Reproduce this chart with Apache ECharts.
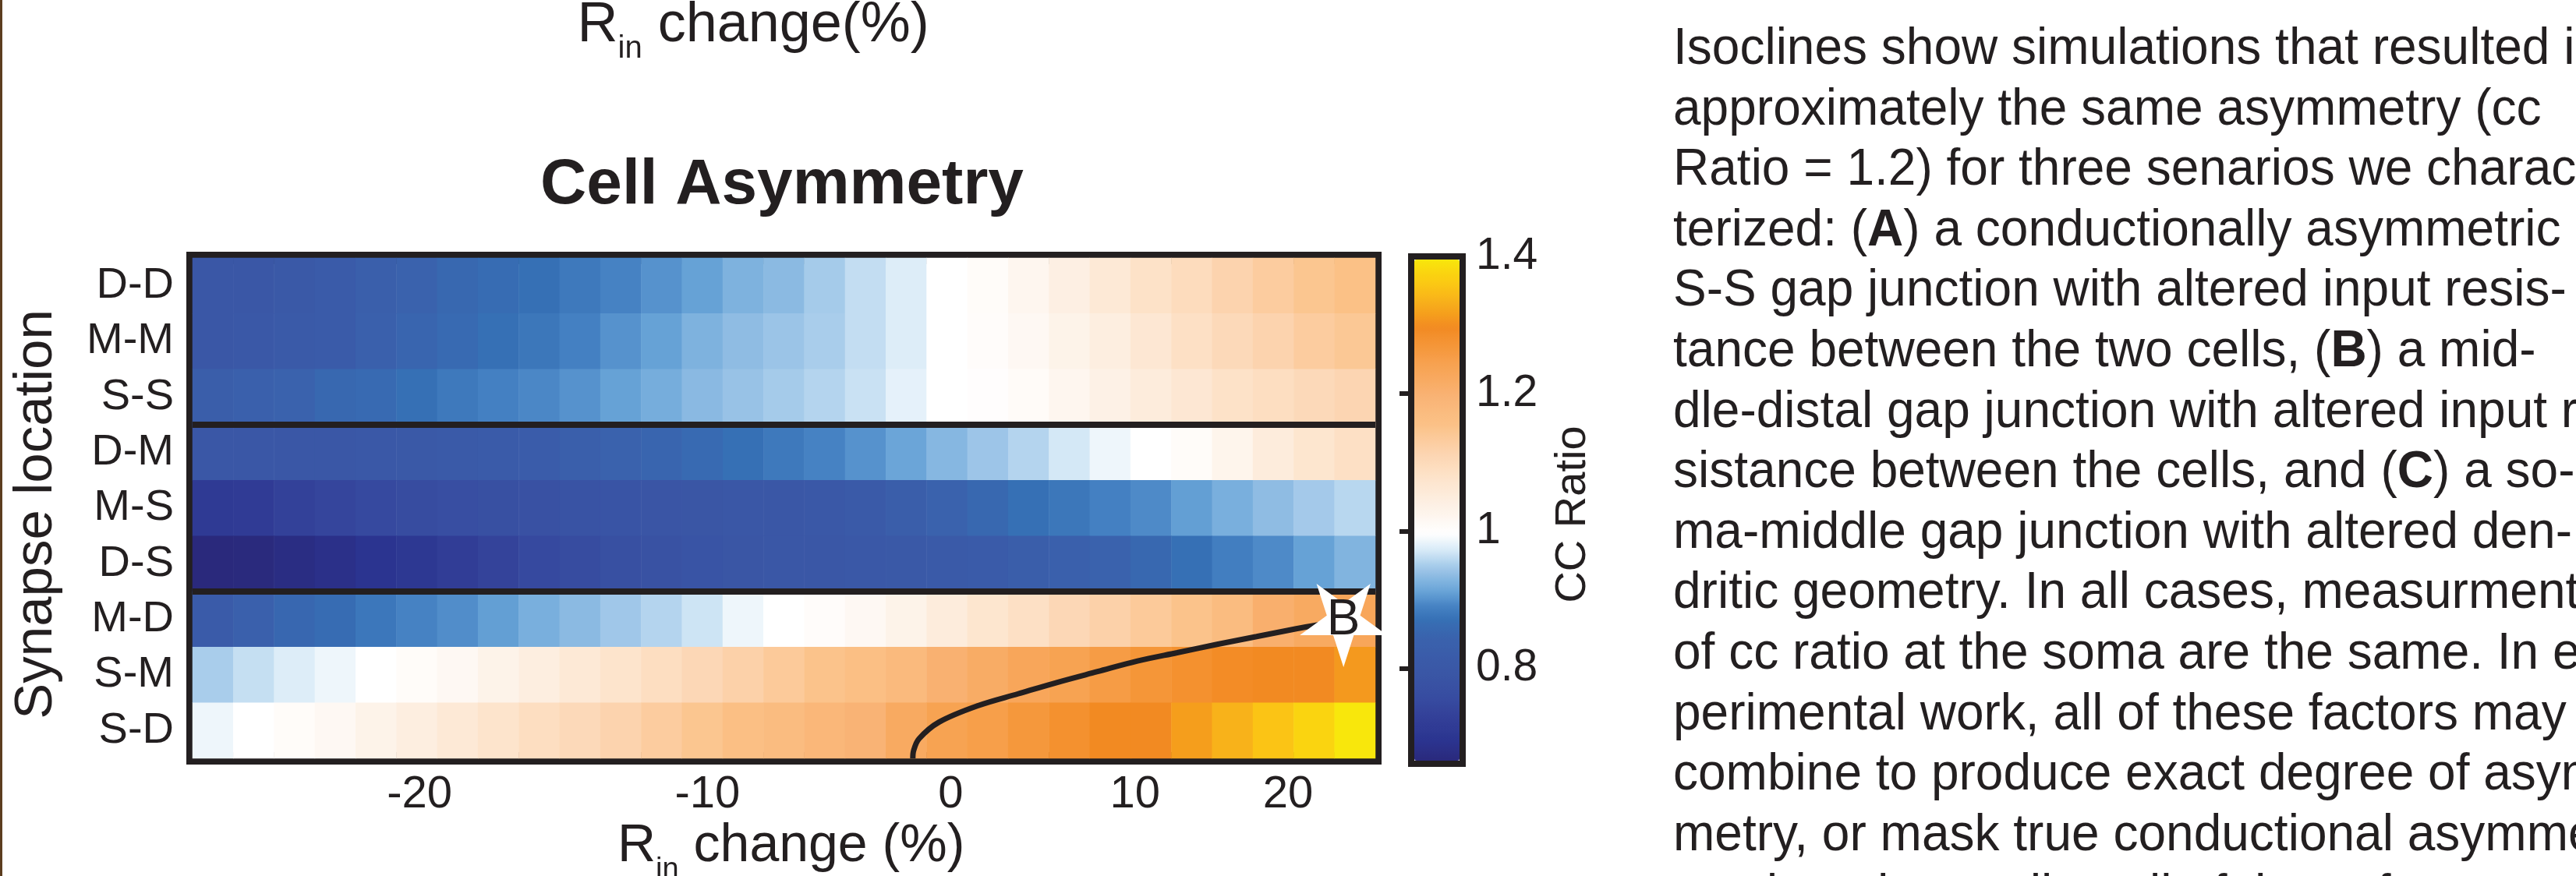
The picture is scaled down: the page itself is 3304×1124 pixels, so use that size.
<!DOCTYPE html>
<html>
<head>
<meta charset="utf-8">
<script src="https://cdn.jsdelivr.net/npm/echarts@6/dist/echarts.min.js"></script>
<style>
html,body{margin:0;padding:0;background:#fff;}
#chart{width:3304px;height:1124px;}
</style>
</head>
<body>
<div id="chart"></div>
<script>
// ---------------- data ----------------
const synapseLocations = ['D-D','M-M','S-S','D-M','M-S','D-S','M-D','S-M','S-D'];
// R_in change (%) at each simulated column (non-uniform spacing)
const rinChange = [-26.6,-25.3,-24.1,-22.8,-21.4,-20.1,-18.6,-17.2,-15.8,-14.4,-13.0,-11.6,-10.2,-8.6,-6.9,-5.2,-3.5,-1.8,-0.2,2.0,4.2,6.4,8.6,10.9,13.6,16.3,19.0,21.8,24.7];
const xTickLabels = [-20,-10,0,10,20];
const ccTickLabels = [0.8,1,1.2,1.4];
const ccTickMarks = [0.8,1,1.2];

// CC ratio per synapse location, one value per R_in column
const ccDD = [0.80,0.80,0.81,0.82,0.835,0.85,0.86,0.868,0.875,0.885,0.895,0.905,0.915,0.93,0.938,0.953,0.967,0.98,1.0,1.01,1.025,1.045,1.065,1.085,1.10,1.12,1.135,1.15,1.16];
const ccMM = [0.80,0.805,0.815,0.82,0.84,0.855,0.865,0.875,0.882,0.893,0.905,0.915,0.93,0.94,0.947,0.955,0.967,0.98,1.0,1.008,1.02,1.035,1.05,1.07,1.09,1.105,1.12,1.135,1.145];
const ccSS = [0.83,0.84,0.85,0.86,0.865,0.875,0.885,0.893,0.898,0.905,0.915,0.925,0.937,0.945,0.953,0.96,0.97,0.985,1.0,1.004,1.012,1.025,1.04,1.055,1.07,1.085,1.095,1.105,1.115];
const ccDM = [0.80,0.80,0.80,0.80,0.805,0.81,0.815,0.82,0.825,0.835,0.848,0.855,0.865,0.875,0.885,0.895,0.905,0.918,0.935,0.948,0.96,0.975,0.99,1.0,1.01,1.03,1.055,1.075,1.09];
const ccMS = [0.715,0.72,0.735,0.745,0.755,0.762,0.77,0.775,0.78,0.785,0.79,0.793,0.797,0.80,0.80,0.805,0.815,0.83,0.85,0.86,0.875,0.882,0.893,0.90,0.913,0.927,0.94,0.952,0.962];
const ccDS = [0.67,0.672,0.68,0.69,0.70,0.71,0.725,0.74,0.755,0.762,0.775,0.782,0.79,0.795,0.80,0.80,0.805,0.81,0.815,0.82,0.83,0.84,0.85,0.86,0.875,0.89,0.90,0.915,0.932];
const ccMD = [0.82,0.84,0.858,0.868,0.883,0.895,0.902,0.913,0.927,0.938,0.95,0.96,0.972,0.99,1.0,1.008,1.02,1.035,1.055,1.075,1.09,1.11,1.125,1.14,1.155,1.175,1.21,1.225,1.235];
const ccSM = [0.955,0.968,0.98,0.99,1.0,1.01,1.02,1.035,1.05,1.065,1.08,1.095,1.11,1.125,1.14,1.155,1.165,1.18,1.205,1.22,1.235,1.245,1.26,1.275,1.285,1.295,1.30,1.30,1.315];
const ccSD = [0.99,1.0,1.01,1.02,1.035,1.05,1.065,1.08,1.095,1.105,1.12,1.135,1.15,1.165,1.175,1.19,1.2,1.225,1.245,1.255,1.27,1.285,1.30,1.30,1.32,1.34,1.36,1.38,1.40];

// isocline (cc ratio = 1.2) in [column position, row position] units
const isoclineB = [[17.66,9.0],[17.68,8.86],[17.81,8.65],[18.30,8.35],[19.27,8.05],[20.24,7.84],[21.22,7.63],[22.19,7.44],[23.17,7.25],[24.14,7.10],[25.12,6.95],[26.09,6.81],[27.06,6.67],[27.6,6.6]];
const pointB = [[28.22,6.53]];
const groupBreaks = [3,6];

const paragraphLines = [
  'Isoclines show simulations that resulted in',
  'approximately the same asymmetry (cc',
  'Ratio = 1.2) for three senarios we charac-',
  'terized: ({b|A}) a conductionally asymmetric',
  'S-S gap junction with altered input resis-',
  'tance between the two cells, ({b|B}) a mid-',
  'dle-distal gap junction with altered input re-',
  'sistance between the cells, and ({b|C}) a so-',
  'ma-middle gap junction with altered den-',
  'dritic geometry. In all cases, measurments',
  'of cc ratio at the soma are the same. In ex-',
  'perimental work, all of these factors may',
  'combine to produce exact degree of asym-',
  'metry, or mask true conductional asymme-',
  'try, thus demanding all of these factors'
];

// ---------------- styling helpers ----------------
const FONT = '"Liberation Sans", Arial, Helvetica, sans-serif';
const INK = '#231f20';
const cmapStops = [[0.67,'#2a297c'],[0.70,'#2b3490'],[0.73,'#323f97'],[0.76,'#374ba0'],[0.80,'#3a57a6'],[0.85,'#3a62ad'],[0.875,'#3670b5'],[0.895,'#4682c3'],[0.915,'#66a2d6'],[0.935,'#86b7e1'],[0.955,'#a9cdeb'],[0.975,'#d4e8f6'],[1.0,'#ffffff'],[1.04,'#fdf1e6'],[1.08,'#fde4cc'],[1.12,'#fcd3ae'],[1.16,'#fbc186'],[1.2,'#f9b375'],[1.25,'#f7a14e'],[1.3,'#f28a22'],[1.32,'#f59e1c'],[1.34,'#f8b21a'],[1.36,'#fbc415'],[1.38,'#fad410'],[1.4,'#f8e70c']];
const CMIN = 0.67, CMAX = 1.4;
function hex2rgb(h){return [parseInt(h.slice(1,3),16),parseInt(h.slice(3,5),16),parseInt(h.slice(5,7),16)];}
function cmapAt(v){
  for (let i=0;i<cmapStops.length-1;i++){
    const a=cmapStops[i], b=cmapStops[i+1];
    if (v<=b[0]){
      const t=Math.max(0,(v-a[0])/(b[0]-a[0]));
      const ca=hex2rgb(a[1]), cb=hex2rgb(b[1]);
      const c=ca.map((x,k)=>Math.round(x+(cb[k]-x)*t));
      return 'rgb('+c.join(',')+')';
    }
  }
  return cmapStops[cmapStops.length-1][1];
}
const cmapColors = [];
for (let k=0;k<=146;k++){ cmapColors.push(cmapAt(CMIN+(CMAX-CMIN)*k/146)); }

const rowsData = [ccDD,ccMM,ccSS,ccDM,ccMS,ccDS,ccMD,ccSM,ccSD];
const heatData = [];
rowsData.forEach((row,r)=>row.forEach((v,c)=>heatData.push([c,r,v])));

// position of an R_in tick value along the column axis
function colPos(t){
  for (let i=0;i<rinChange.length-1;i++){
    const a=rinChange[i], b=rinChange[i+1];
    if (t>=a && t<=b) return i+0.5+(t-a)/(b-a);
  }
  return t<rinChange[0]?0:rinChange.length;
}
const xTickPos = xTickLabels.map(colPos);

const starPath = 'path://M0,100 L22.45,30.9 L95.1,30.9 L36.33,-11.8 L58.8,-80.9 L0,-38.2 L-58.8,-80.9 L-36.33,-11.8 L-95.1,30.9 L-22.45,30.9 Z';

const chart = echarts.init(document.getElementById('chart'), null, {renderer:'canvas'});
const option = {
  backgroundColor:'#ffffff',
  animation:false,
  textStyle:{fontFamily:FONT, color:INK},
  grid:[
    {left:247, top:331, width:1517, height:642, show:true, borderColor:INK, borderWidth:16, backgroundColor:'rgba(0,0,0,0)', containLabel:false, outerBoundsMode:'none'},
    {left:1810, top:329, width:58, height:643, show:false, containLabel:false, outerBoundsMode:'none'}
  ],
  xAxis:[
    {type:'category', gridIndex:0, data:rinChange.map(String), show:false},
    {type:'value', gridIndex:0, min:0, max:rinChange.length, position:'bottom',
      axisLine:{show:false}, splitLine:{show:false},
      axisTick:{show:true, inside:true, length:19, customValues:xTickPos, lineStyle:{color:INK, width:5}},
      axisLabel:{show:true, customValues:xTickPos, margin:18, fontSize:58, fontFamily:FONT, color:INK,
        formatter:function(v){for(let k=0;k<xTickPos.length;k++){if(Math.abs(v-xTickPos[k])<1e-3)return String(xTickLabels[k]);}return '';}}
    },
    {type:'value', gridIndex:1, min:0, max:1, show:false}
  ],
  yAxis:[
    {type:'category', gridIndex:0, data:synapseLocations, inverse:true,
      axisLine:{show:false}, splitLine:{show:false},
      axisTick:{show:true, inside:true, alignWithLabel:true, interval:0, length:16, lineStyle:{color:INK, width:6}},
      axisLabel:{interval:0, fontSize:56, fontFamily:FONT, color:INK, margin:24}
    },
    {type:'value', gridIndex:0, min:0, max:synapseLocations.length, inverse:true, show:false},
    {type:'value', gridIndex:1, min:CMIN, max:CMAX, position:'right',
      axisLine:{show:false}, splitLine:{show:false},
      axisTick:{show:true, inside:true, length:15, customValues:ccTickMarks, lineStyle:{color:INK, width:6}},
      axisLabel:{show:true, customValues:ccTickLabels, margin:25, fontSize:57, fontFamily:FONT, color:INK,
        formatter:function(v){return String(Math.round(v*10)/10);}}
    }
  ],
  visualMap:{
    type:'continuous', min:CMIN, max:CMAX, dimension:2, seriesIndex:0,
    calculable:false, hoverLink:false, orient:'vertical',
    left:1806, top:325, itemWidth:58, itemHeight:643,
    padding:4, borderColor:INK, borderWidth:8, backgroundColor:'rgba(0,0,0,0)',
    inRange:{color:cmapColors}
  },
  series:[
    {type:'heatmap', xAxisIndex:0, yAxisIndex:0, data:heatData, itemStyle:{borderWidth:0}, emphasis:{disabled:true}, silent:true, z:2},
    {type:'line', xAxisIndex:1, yAxisIndex:1, data:isoclineB, smooth:0.35, showSymbol:false, symbol:'none', silent:true, z:5,
      lineStyle:{color:INK, width:7},
      markLine:{silent:true, symbol:['none','none'], label:{show:false}, lineStyle:{color:INK, width:8, type:'solid'},
        emphasis:{disabled:true}, data:groupBreaks.map(v=>({yAxis:v}))}
    },
    {type:'scatter', xAxisIndex:1, yAxisIndex:1, data:pointB, symbol:starPath, symbolSize:[112,107], symbolOffset:[0,'5.3%'],
      itemStyle:{color:'#ffffff', opacity:1}, silent:true, z:10,
      label:{show:true, position:'inside', formatter:'B', fontSize:64, fontFamily:FONT, color:INK, offset:[0,-6]}
    }
  ],
  graphic:{elements:[
    {type:'rect', shape:{x:0,y:0,width:3,height:1124}, style:{fill:'#5c3d1f'}, silent:true},
    {type:'text', x:740.5, y:-17, silent:true, style:{
      text:'{r|R}{s|in}{r| change(%)}', fill:INK, fontSize:72, fontFamily:FONT, align:'left', verticalAlign:'top',
      rich:{ r:{fontSize:72, fontFamily:FONT, lineHeight:100, verticalAlign:'middle', fill:INK},
             s:{fontSize:40, fontFamily:FONT, lineHeight:34, verticalAlign:'bottom', fill:INK} } }},
    {type:'text', x:1003, y:238, silent:true, style:{
      text:'Cell Asymmetry', fill:INK, fontSize:82, fontWeight:'bold', fontFamily:FONT, align:'center', verticalAlign:'middle'}},
    {type:'text', x:47, y:660, rotation:Math.PI/2, silent:true, style:{
      text:'Synapse location', fill:INK, fontSize:69, fontFamily:FONT, align:'center', verticalAlign:'middle'}},
    {type:'text', x:792, y:1036, silent:true, style:{
      text:'{r|R}{s|in}{r| change (%)}', fill:INK, fontSize:68, fontFamily:FONT, align:'left', verticalAlign:'top',
      rich:{ r:{fontSize:68, fontFamily:FONT, lineHeight:100, verticalAlign:'middle', fill:INK},
             s:{fontSize:38, fontFamily:FONT, lineHeight:37, verticalAlign:'bottom', fill:INK} } }},
    {type:'text', x:2018, y:660, rotation:Math.PI/2, silent:true, style:{
      text:'CC Ratio', fill:INK, fontSize:56, fontFamily:FONT, align:'center', verticalAlign:'middle'}},
    {type:'text', x:2146, y:25, scaleX:0.97, silent:true, style:{
      text:paragraphLines.join('\n'), fill:INK, fontSize:66, fontFamily:FONT, lineHeight:77.6, align:'left', verticalAlign:'top',
      rich:{ b:{fontSize:66, fontFamily:FONT, fontWeight:'bold', lineHeight:77.6, fill:INK} } }}
  ]}
};
chart.setOption(option);
</script>
</body>
</html>
